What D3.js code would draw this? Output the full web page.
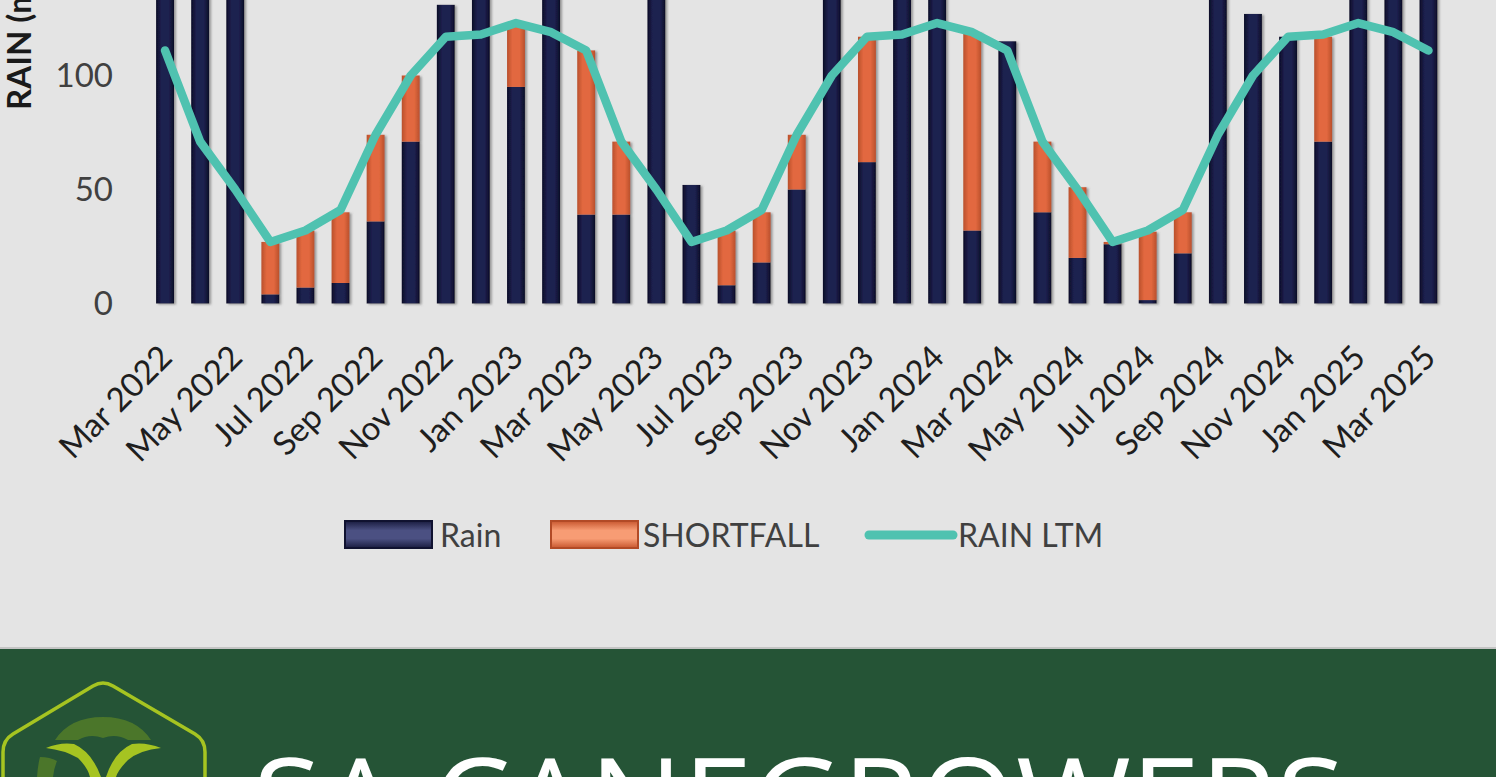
<!DOCTYPE html>
<html>
<head>
<meta charset="utf-8">
<script src="https://cdn.jsdelivr.net/npm/d3@7"></script>
<style>
  html, body { margin: 0; padding: 0; background: #e4e4e4; overflow: hidden; }
  svg { display: block; font-family: Lato, 'Open Sans', sans-serif; }
</style>
</head>
<body>
<div id="chart"></div>
<script>
// monthly categories
const months = [
  'Mar 2022','Apr 2022','May 2022','Jun 2022','Jul 2022','Aug 2022','Sep 2022','Oct 2022','Nov 2022','Dec 2022',
  'Jan 2023','Feb 2023','Mar 2023','Apr 2023','May 2023','Jun 2023','Jul 2023','Aug 2023','Sep 2023','Oct 2023','Nov 2023','Dec 2023',
  'Jan 2024','Feb 2024','Mar 2024','Apr 2024','May 2024','Jun 2024','Jul 2024','Aug 2024','Sep 2024','Oct 2024','Nov 2024','Dec 2024',
  'Jan 2025','Feb 2025','Mar 2025'
];
// rain (mm)
const rain = [190, 250, 150, 4, 7, 9, 36, 71, 131, 160,
  95, 170, 39, 39, 140, 52, 8, 18, 50, 150, 62, 165,
  160, 32, 115, 40, 20, 26, 1.5, 22, 140, 127, 117, 71,
  150, 180, 160];
// shortfall against long term mean (mm)
const shortfall = [0, 0, 0, 23, 25, 31, 38, 29, 0, 0,
  27, 0, 72, 32, 0, 0, 24, 22, 24, 0, 55, 0,
  0, 87, 0, 31, 31, 1, 30, 18, 0, 0, 0, 46,
  0, 0, 0];
// long term mean rain (mm)
const rainLtm = [111, 71, 50, 27, 32, 41, 74, 100, 117, 118,
  123, 119, 111, 71, 50, 27, 32, 41, 74, 100, 117, 118,
  123, 119, 111, 71, 50, 27, 32, 41, 74, 100, 117, 118,
  123, 119, 111];
const yTicks = [0, 50, 100, 150, 200, 250];
const seriesNames = ['Rain', 'SHORTFALL', 'RAIN LTM'];

const W = 1496, H = 777;
const svg = d3.select('#chart').append('svg').attr('width', W).attr('height', H);
const defs = svg.append('defs');

function hGrad(id, edge, mid) {
  const g = defs.append('linearGradient').attr('id', id).attr('x1', 0).attr('x2', 1).attr('y1', 0).attr('y2', 0);
  g.append('stop').attr('offset', '0%').attr('stop-color', edge);
  g.append('stop').attr('offset', '30%').attr('stop-color', mid);
  g.append('stop').attr('offset', '70%').attr('stop-color', mid);
  g.append('stop').attr('offset', '100%').attr('stop-color', edge);
}
function vGrad(id, edge, mid) {
  const g = defs.append('linearGradient').attr('id', id).attr('x1', 0).attr('x2', 0).attr('y1', 0).attr('y2', 1);
  g.append('stop').attr('offset', '0%').attr('stop-color', edge);
  g.append('stop').attr('offset', '35%').attr('stop-color', mid);
  g.append('stop').attr('offset', '65%').attr('stop-color', mid);
  g.append('stop').attr('offset', '100%').attr('stop-color', edge);
}
hGrad('rainG', '#0b0c26', '#1e2150');
hGrad('shortG', '#b9502c', '#e2683f');
vGrad('rainL', '#1a1c40', '#4b5082');
vGrad('shortL', '#c8572f', '#f79c74');
defs.append('filter').attr('id', 'shadow').attr('x', '-30%').attr('width', '160%')
  .append('feDropShadow').attr('dx', 2).attr('dy', 1).attr('stdDeviation', 1.2)
  .attr('flood-color', '#666').attr('flood-opacity', 0.6);

svg.append('rect').attr('width', W).attr('height', 649).attr('fill', '#e4e4e4');

const x = d3.scaleBand().domain(months).range([147.5, 1446]).paddingInner(0.49).paddingOuter(0.245);
const y = d3.scaleLinear().domain([0, 100]).range([303.5, 75.5]);
const cx = d => x(d) + x.bandwidth() / 2;

// y axis labels
const yAxis = svg.append('g').attr('transform', 'translate(113,0)')
  .call(d3.axisLeft(y).tickValues(yTicks).tickSize(0).tickPadding(0));
yAxis.select('.domain').remove();
yAxis.selectAll('text').attr('font-size', 33).attr('fill', '#404040')
  .attr('font-family', "Lato, 'Open Sans', sans-serif");

svg.append('text').attr('transform', 'translate(31,110) rotate(-90)')
  .attr('font-size', 33).attr('font-weight', 'bold').attr('fill', '#1a1a1a')
  .text('RAIN (mm)');

// x axis labels, every second month
const xAxis = svg.append('g').attr('transform', 'translate(0,303.5)')
  .call(d3.axisBottom(x).tickValues(months.filter((m, i) => i % 2 === 0)).tickSize(0));
xAxis.select('.domain').remove();
xAxis.selectAll('text')
  .attr('font-size', 33).attr('fill', '#1e1e1e')
  .attr('font-family', "Lato, 'Open Sans', sans-serif")
  .attr('text-anchor', 'end')
  .attr('y', 0).attr('dy', 0)
  .attr('transform', 'translate(9,56) rotate(-45)');

// stacked bars
const bars = svg.append('g').attr('filter', 'url(#shadow)');
bars.selectAll('rect.rain').data(months).enter().append('rect')
  .attr('class', 'rain')
  .attr('x', d => x(d))
  .attr('width', x.bandwidth())
  .attr('y', (d, i) => y(rain[i]))
  .attr('height', (d, i) => y(0) - y(rain[i]))
  .attr('fill', 'url(#rainG)');
bars.selectAll('rect.short').data(months).enter().append('rect')
  .attr('class', 'short')
  .attr('x', d => x(d))
  .attr('width', x.bandwidth())
  .attr('y', (d, i) => y(rain[i] + shortfall[i]))
  .attr('height', (d, i) => y(rain[i]) - y(rain[i] + shortfall[i]))
  .attr('fill', 'url(#shortG)');

// long term mean line
const line = d3.line().x(d => cx(d[0])).y(d => y(d[1]));
svg.append('path').datum(months.map((m, i) => [m, rainLtm[i]]))
  .attr('d', line).attr('fill', 'none')
  .attr('stroke', '#4fc2b0').attr('stroke-width', 8.5)
  .attr('stroke-linejoin', 'round').attr('stroke-linecap', 'round');

// legend
const legendX = [345, 551, 865];
const legendTextX = [440, 643, 958];
const lg = svg.append('g');
seriesNames.forEach((name, i) => {
  if (i < 2) {
    lg.append('rect').attr('x', legendX[i]).attr('y', 521).attr('width', 87).attr('height', 27)
      .attr('fill', i === 0 ? 'url(#rainL)' : 'url(#shortL)')
      .attr('stroke', i === 0 ? '#101230' : '#b24a26').attr('stroke-width', 2);
  } else {
    lg.append('line').attr('x1', legendX[i] + 4).attr('x2', legendX[i] + 88)
      .attr('y1', 535).attr('y2', 535)
      .attr('stroke', '#4fc2b0').attr('stroke-width', 9).attr('stroke-linecap', 'round');
  }
  lg.append('text').attr('x', legendTextX[i]).attr('y', 535).attr('dy', '0.36em')
    .attr('font-size', 32).attr('fill', '#404040').text(name);
});

// footer band
svg.append('rect').attr('x', 0).attr('y', 647).attr('width', W).attr('height', 2).attr('fill', '#c4c4c4');
svg.append('rect').attr('x', 0).attr('y', 649).attr('width', W).attr('height', H - 649).attr('fill', '#255436');
const logo = svg.append('g');
logo.append('path')
  .attr('d', 'M3,777 L3,752 Q3,740 13,734 L93,686 Q103,680 113,686 L195,734 Q205,740 205,752 L205,777')
  .attr('fill', 'none').attr('stroke', '#a6c421').attr('stroke-width', 3.5);
logo.append('path')
  .attr('d', 'M55,740 Q70,717 103,717 Q136,717 151,740 L128,740 Q116,733 103,738 Q90,733 78,740 Z')
  .attr('fill', '#4b762a');
logo.append('path')
  .attr('d', 'M37,777 Q38,764 40,757 Q50,757 57,761 Q54,768 53,777 Z')
  .attr('fill', '#4b762a');
logo.append('path')
  .attr('d', 'M46,748 Q60,742 74,744 Q92,752 101,777 L106,777 Q114,752 132,744 Q146,742 161,748 Q140,750 128,760 Q118,770 116,777 L90,777 Q88,768 78,758 Q64,750 46,748 Z')
  .attr('fill', '#a6c421');
svg.append('text').attr('x', 253).attr('y', 759).attr('dy', '0.72em')
  .attr('font-size', 120).attr('font-weight', 500).attr('fill', '#ffffff')
  .attr('font-family', "'Open Sans', sans-serif")
  .attr('textLength', 1092).attr('lengthAdjust', 'spacingAndGlyphs')
  .text('SA CANEGROWERS');
</script>
</body>
</html>
